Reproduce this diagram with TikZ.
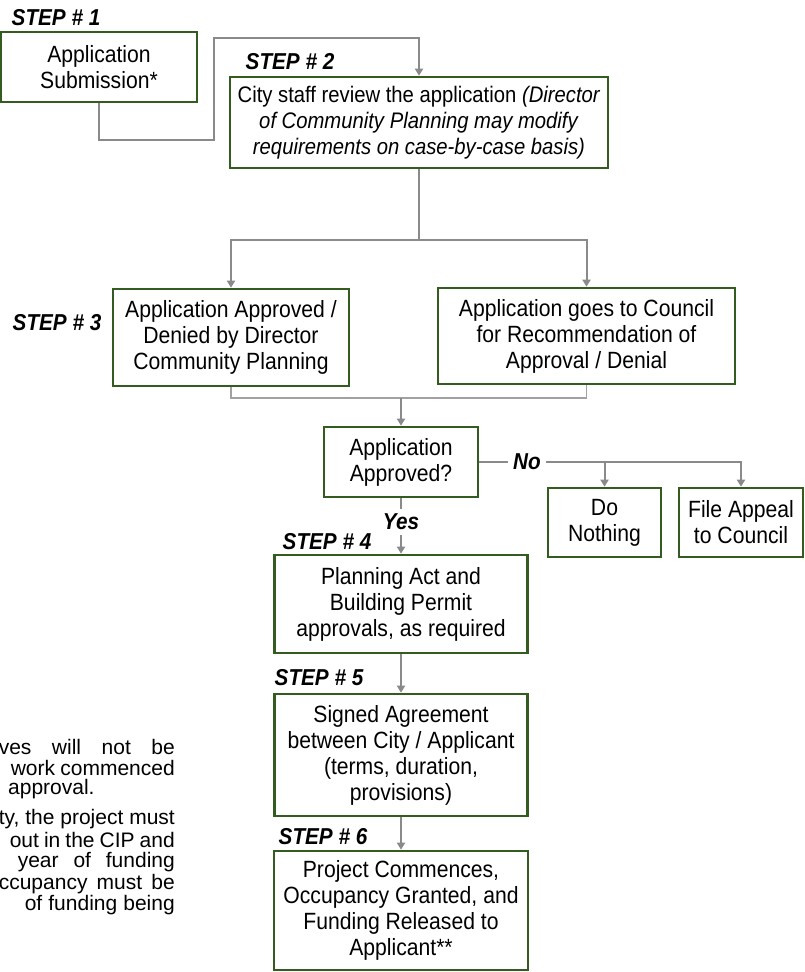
\documentclass[tikz,border=0pt]{standalone}
\usepackage{fontspec}
\setmainfont{Liberation Sans}[FakeStretch=0.9]
\newfontfamily\notefont{Liberation Sans}
\usetikzlibrary{positioning,arrows.meta}
\definecolor{boxgreen}{RGB}{52,92,32}
\definecolor{linegrey}{RGB}{138,138,138}

\begin{document}
\begin{tikzpicture}[x=1pt, y=-1pt,
  block/.style={rectangle, draw=boxgreen, line width=2.6pt, fill=white, align=center, inner sep=0pt, font=\fontsize{23.5}{26}\selectfont},
  steplbl/.style={inner sep=1pt, font=\fontsize{23}{26}\selectfont\bfseries\itshape},
  answer/.style={inner sep=5pt, font=\fontsize{23}{26}\selectfont\bfseries\itshape},
  note/.style={anchor=east, inner sep=0pt, font=\notefont\fontsize{21}{21}\selectfont},
  link/.style={draw=linegrey, line width=2pt},
  thinlink/.style={draw=linegrey!80, line width=1.4pt},
  arrow/.style={link, -{Triangle[width=8pt,length=7pt]}}
]
\useasboundingbox (0,0) rectangle (804,972);

% Step labels
\node[steplbl] (st1) at (56,18) {STEP \# 1};
\node[steplbl] (st2) at (290,62) {STEP \# 2};
\node[steplbl] (st3) at (57,323) {STEP \# 3};
\node[steplbl] (st4) at (327,542) {STEP \# 4};
\node[steplbl] (st5) at (319,678) {STEP \# 5};
\node[steplbl] (st6) at (323,837) {STEP \# 6};

% Top
\node[block, minimum width=196pt, minimum height=70pt] (sub) at (99,67) {Application\\Submission*};
\node[block, minimum width=378pt, minimum height=91pt, font=\fontsize{22.5}{26}\selectfont] (rev) at (419,122.5) {City staff review the application \textit{(Director}\\\textit{of Community Planning may modify}\\\textit{requirements on case-by-case basis)}};

% Step 3 row
\node[block, minimum width=236pt, minimum height=97pt] (dir) at (231,337.5) {Application Approved /\\Denied by Director\\Community Planning};
\node[block, minimum width=297pt, minimum height=96pt] (cou) at (586.5,336) {Application goes to Council\\for Recommendation of\\Approval / Denial};

% Decision
\node[block, minimum width=154pt, minimum height=70pt] (q) at (401,462) {Application\\Approved?};
\node[block, minimum width=113pt, minimum height=69pt] (dn) at (604.5,522.5) {Do\\Nothing};
\node[block, minimum width=124pt, minimum height=69pt] (fa) at (741,522.5) {File Appeal\\to Council};
\node[answer] (no) at (527,462) {No};
\node[answer] (yes) at (401,522) {Yes};

% Lower steps
\node[block, minimum width=253pt, minimum height=98pt] (s4) at (401,604) {Planning Act and\\Building Permit\\approvals, as required};
\node[block, minimum width=253pt, minimum height=122pt] (s5) at (401,755) {Signed Agreement\\between City / Applicant\\(terms, duration,\\provisions)};
\node[block, minimum width=254pt, minimum height=119pt] (s6) at (401,910.5) {Project Commences,\\Occupancy Granted, and\\Funding Released to\\Applicant**};

% Notes (cut off at the left)
\node[note] (n1) at (175,747) {\makebox[176pt][s]{ves will not be}};
\node[note] (n2) at (175,768) {\makebox[164pt][s]{work commenced}};
\node[note, anchor=west] (n3) at (8,789) {approval.};
\node[note] (n4) at (175,819) {\makebox[176pt][s]{ty, the project must}};
\node[note] (n5) at (175,840) {\makebox[165pt][s]{out in the CIP and}};
\node[note] (n6) at (175,862) {\makebox[157pt][s]{year of funding}};
\node[note] (n7) at (175,884) {\makebox[176pt][s]{ccupancy must be}};
\node[note] (n8) at (175,905) {\makebox[150pt][s]{of funding being}};

% Connectors
\coordinate (k1) at (214,140);
\coordinate (k2) at (214,38);
\coordinate (sp) at (419,240);
\coordinate (mg) at (401,398);

\draw[arrow] (sub.south) |- (k1) -- (k2) -| (rev.north);
\draw[link] (rev.south) -- (sp);
\draw[arrow] (sp) -| (dir.north);
\draw[arrow] (sp) -| (cou.north);
\draw[thinlink] (dir.south) |- (mg) -| (cou.south);
\draw[arrow] (mg) -- (q.north);
\draw[link] (q.east) -- (no.west);
\draw[arrow] (no.east) -| (fa.north);
\draw[arrow] (no.east -| dn.north) -- (dn.north);
\draw[link] (q.south) -- (yes.north);
\draw[arrow] (yes.south) -- (s4.north);
\draw[arrow] (s4) -- (s5);
\draw[arrow] (s5) -- (s6);

\end{tikzpicture}
\end{document}
